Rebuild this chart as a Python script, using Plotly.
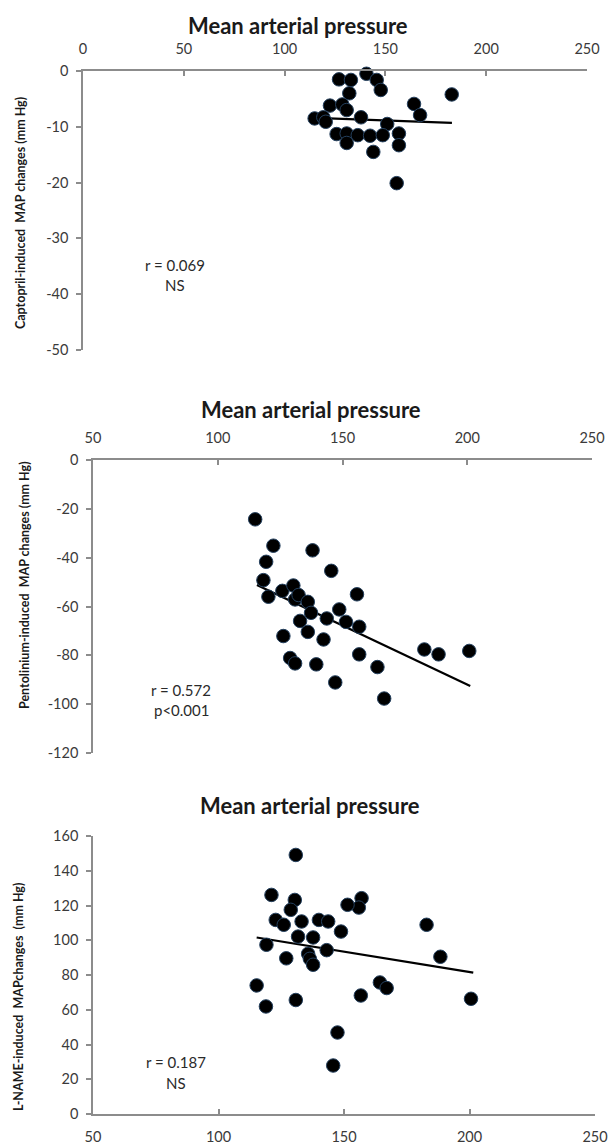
import plotly.graph_objects as go

W, H = 611, 1144

# ---------------- data ----------------
cap_x = [127.0, 132.9, 140.6, 145.7, 147.7, 132.1, 182.9, 122.5, 128.6, 130.8, 164.2, 167.2,
         114.9, 119.2, 120.4, 137.9, 150.9, 125.8, 130.8, 136.3, 142.4, 148.7, 156.7, 130.8,
         156.7, 144.0, 155.6]
cap_y = [-1.5, -1.6, -0.5, -1.6, -3.4, -4.0, -4.2, -6.2, -6.0, -7.0, -5.9, -7.9,
         -8.5, -8.3, -9.1, -8.3, -9.5, -11.3, -11.2, -11.5, -11.6, -11.5, -11.2, -12.9,
         -13.3, -14.5, -20.1]
cap_trend_x = [115.0, 183.0]
cap_trend_y = [-8.4, -9.3]

pen_x = [115.0, 122.3, 119.4, 138.0, 145.5, 118.3, 125.9, 130.3, 120.3, 131.0, 132.4, 136.1,
         155.8, 148.7, 137.4, 143.7, 151.4, 156.7, 133.0, 136.1, 126.3, 142.4, 156.7, 182.8,
         188.5, 200.8, 129.0, 131.0, 139.5, 164.0, 147.1, 166.7]
pen_y = [-24.3, -35.1, -41.7, -37.0, -45.4, -49.2, -53.6, -51.4, -56.0, -57.1, -55.3, -58.1,
         -55.0, -61.2, -62.6, -64.9, -66.3, -68.3, -65.9, -70.4, -72.1, -73.5, -79.6, -77.6,
         -79.6, -78.2, -81.1, -83.3, -83.7, -84.8, -91.1, -97.7]
pen_trend_x = [115.7, 201.2]
pen_trend_y = [-51.2, -92.6]

lname_x = [130.8, 121.1, 130.4, 128.8, 122.8, 126.0, 133.1, 131.7, 119.1, 127.0, 157.0, 155.9,
           151.4, 140.0, 143.7, 182.9, 148.8, 137.7, 143.1, 135.7, 136.4, 137.7, 188.4, 115.2,
           118.9, 130.8, 164.3, 167.0, 156.7, 200.6, 147.4, 145.7]
lname_y = [149.1, 126.1, 123.2, 117.5, 111.7, 108.9, 110.8, 102.1, 97.4, 89.6, 124.2, 118.8,
           120.4, 111.7, 110.8, 108.9, 105.0, 101.6, 94.3, 92.2, 89.3, 85.9, 90.5, 74.0,
           61.9, 65.6, 75.7, 72.5, 68.2, 66.3, 46.9, 27.9]
lname_trend_x = [115.2, 201.5]
lname_trend_y = [101.6, 81.4]

cap_xticks = [0, 50, 100, 150, 200, 250]
pen_xticks = [50, 100, 150, 200, 250]
lname_xticks = [50, 100, 150, 200, 250]
cap_yticks = [0, -10, -20, -30, -40, -50]
pen_yticks = [0, -20, -40, -60, -80, -100, -120]
lname_yticks = [0, 20, 40, 60, 80, 100, 120, 140, 160]

x_title = "Mean arterial pressure"
y_titles = ["Captopril-induced  MAP changes (mm Hg)",
            "Pentolinium-induced  MAP changes (mm Hg)",
            "L-NAME-induced  MAPchanges  (mm Hg)"]
stats = [("r = 0.069", "NS"), ("r = 0.572", "p<0.001"), ("r = 0.187", "NS")]

# ---------------- layout helpers ----------------
def px_x(p):
    return p / W

def px_y(p):
    return 1 - p / H

FONT = "Lato, Calibri, Carlito, sans-serif"
AXC = "#8c8c8c"
TXT = "#3a3a3a"

fig = go.Figure()

panels = [
    dict(x=cap_x, y=cap_y, tx=cap_trend_x, ty=cap_trend_y, xr=[0, 250], yr=[-50, 0],
         xt=cap_xticks, yt=cap_yticks, dom_x=[83, 587], dom_y=[71, 350], side="top"),
    dict(x=pen_x, y=pen_y, tx=pen_trend_x, ty=pen_trend_y, xr=[50, 250], yr=[-120, 0],
         xt=pen_xticks, yt=pen_yticks, dom_x=[93, 592], dom_y=[460, 753], side="top"),
    dict(x=lname_x, y=lname_y, tx=lname_trend_x, ty=lname_trend_y, xr=[50, 250], yr=[0, 160],
         xt=lname_xticks, yt=lname_yticks, dom_x=[93, 595], dom_y=[836, 1114], side="bottom"),
]

layout_axes = {}
for i, p in enumerate(panels):
    n = "" if i == 0 else str(i + 1)
    xa, ya = "x" + n, "y" + n
    fig.add_trace(go.Scatter(x=p["tx"], y=p["ty"], mode="lines",
                             line=dict(color="black", width=2.2),
                             xaxis=xa, yaxis=ya, showlegend=False, hoverinfo="skip"))
    fig.add_trace(go.Scatter(x=p["x"], y=p["y"], mode="markers",
                             marker=dict(size=13.5, color="black",
                                         line=dict(color="#24405e", width=1)),
                             xaxis=xa, yaxis=ya, showlegend=False, cliponaxis=False))
    layout_axes["xaxis" + n] = dict(
        domain=[px_x(p["dom_x"][0]), px_x(p["dom_x"][1])],
        range=p["xr"], tickvals=p["xt"], ticktext=[str(v) for v in p["xt"]],
        side=p["side"], anchor=ya, automargin=False,
        showline=True, linecolor=AXC, linewidth=1.5,
        ticks="inside", ticklen=5, tickcolor=AXC, tickwidth=1.5,
        ticklabelstandoff=9,
        showgrid=False, zeroline=False,
        tickfont=dict(family=FONT, size=14.5, color=TXT),
    )
    layout_axes["yaxis" + n] = dict(
        domain=[px_y(p["dom_y"][1]), px_y(p["dom_y"][0])],
        range=p["yr"], tickvals=p["yt"], ticktext=[str(v) for v in p["yt"]],
        anchor=xa, automargin=False,
        showline=True, linecolor=AXC, linewidth=1.5,
        ticks="outside", ticklen=5, tickcolor=AXC, tickwidth=1.5,
        ticklabelstandoff=5,
        showgrid=False, zeroline=False,
        tickfont=dict(family=FONT, size=14.5, color=TXT),
    )

annotations = []
title_pos = [(298, 25), (311, 410), (310, 805)]
ytitle_pos = [(20, 213), (24, 585), (18, 997)]
stat_pos = [((175, 265), (175, 285)), ((181, 690), (181, 710)), ((176, 1062), (176, 1083))]
for i in range(3):
    tx, ty = title_pos[i]
    annotations.append(dict(text="<b>" + x_title + "</b>", x=px_x(tx), y=px_y(ty),
                            xref="paper", yref="paper", showarrow=False,
                            font=dict(family=FONT, size=22, color="#1a1a1a"),
                            xanchor="center", yanchor="middle"))
    yx, yy = ytitle_pos[i]
    annotations.append(dict(text="<b>" + y_titles[i] + "</b>", x=px_x(yx), y=px_y(yy),
                            xref="paper", yref="paper", showarrow=False, textangle=-90,
                            font=dict(family=FONT, size=12.5, color="#1a1a1a"),
                            xanchor="center", yanchor="middle"))
    for (sx, sy), s in zip(stat_pos[i], stats[i]):
        annotations.append(dict(text=s, x=px_x(sx), y=px_y(sy),
                                xref="paper", yref="paper", showarrow=False,
                                font=dict(family=FONT, size=15, color="#2a2a2a"),
                                xanchor="center", yanchor="middle"))

fig.update_layout(
    width=W, height=H,
    margin=dict(l=0, r=0, t=0, b=0),
    paper_bgcolor="white", plot_bgcolor="white",
    annotations=annotations,
    **layout_axes,
)

fig.write_html(
    "out.html",
    config={"displayModeBar": False},
    post_script=("document.body.style.margin='0';"
                 "document.body.style.overflow='hidden';"
                 "document.documentElement.style.overflow='hidden';"),
)
